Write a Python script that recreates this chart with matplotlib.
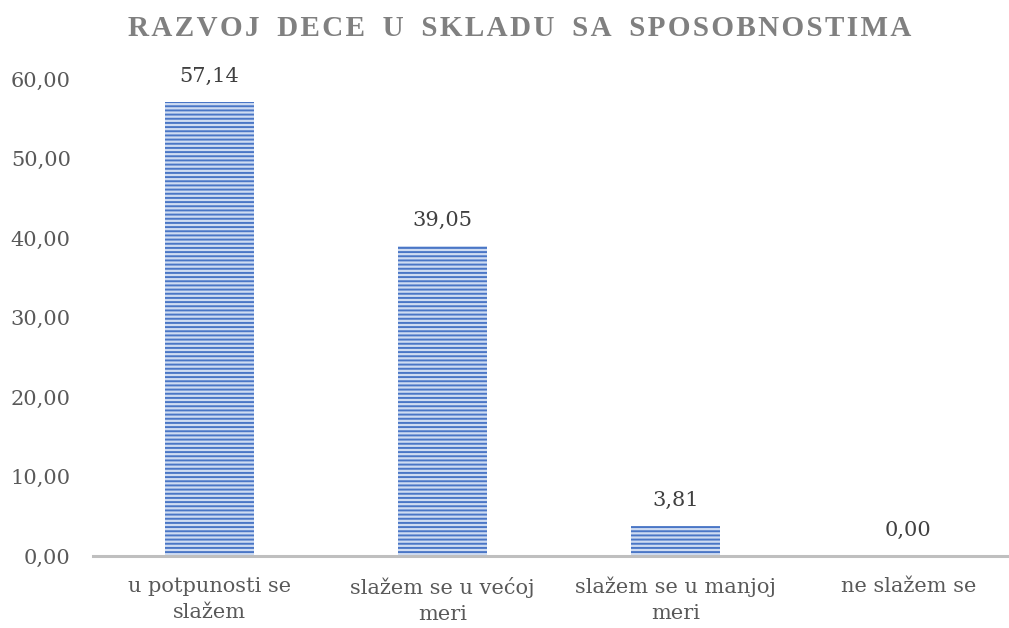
import numpy as np
import matplotlib.pyplot as plt

categories = ['u potpunosti se\nslažem', 'slažem se u većoj\nmeri', 'slažem se u manjoj\nmeri', 'ne slažem se']
values = [57.14, 39.05, 3.81, 0.00]
yticks = [0, 10, 20, 30, 40, 50, 60]
title = 'RAZVOJ DECE U SKLADU SA SPOSOBNOSTIMA'

plt.rcParams['font.family'] = ['DejaVu Serif']
plt.rcParams['hatch.linewidth'] = 1.4

W, H = 1009, 628
fig = plt.figure(figsize=(W / 100, H / 100), dpi=100)
ax = fig.add_axes([93 / W, (H - 556) / H, (W - 93) / W, (556 - 79) / H])

x = np.arange(len(categories))
bars = ax.bar(x, values, width=0.378, color='#cfdcf2', edgecolor='#4a76c6',
              hatch='----', linewidth=0)

for xi, v in zip(x, values):
    ax.text(xi, v + 2.0, f'{v:.2f}'.replace('.', ','), ha='center', va='bottom',
            fontsize=15, color='#404040')

ax.set_xlim(-0.5, -0.5 + (W - 93) / 233)
ax.set_ylim(0, 60)
ax.set_yticks(yticks)
ax.set_yticklabels([f'{t:.2f}'.replace('.', ',') for t in yticks])
ax.set_xticks(x)
ax.set_xticklabels(categories, linespacing=1.45)
ax.tick_params(axis='y', length=0, pad=16, labelsize=15, labelcolor='#595959')
ax.tick_params(axis='x', length=0, pad=15, labelsize=15, labelcolor='#595959')

for s in ['top', 'right', 'left']:
    ax.spines[s].set_visible(False)
ax.spines['bottom'].set_color('#bfbfbf')
ax.spines['bottom'].set_linewidth(2.2)

spaced = '\u200a'.join(title).replace('\u200a \u200a', '\u2009\u2009\u2009')
fig.text(520 / W, 1 - 28 / H, spaced, ha='center', va='center', fontsize=21,
         fontweight='bold', color='#808080', family=['Liberation Serif', 'DejaVu Serif'])

fig.savefig('out.png', dpi=100)
